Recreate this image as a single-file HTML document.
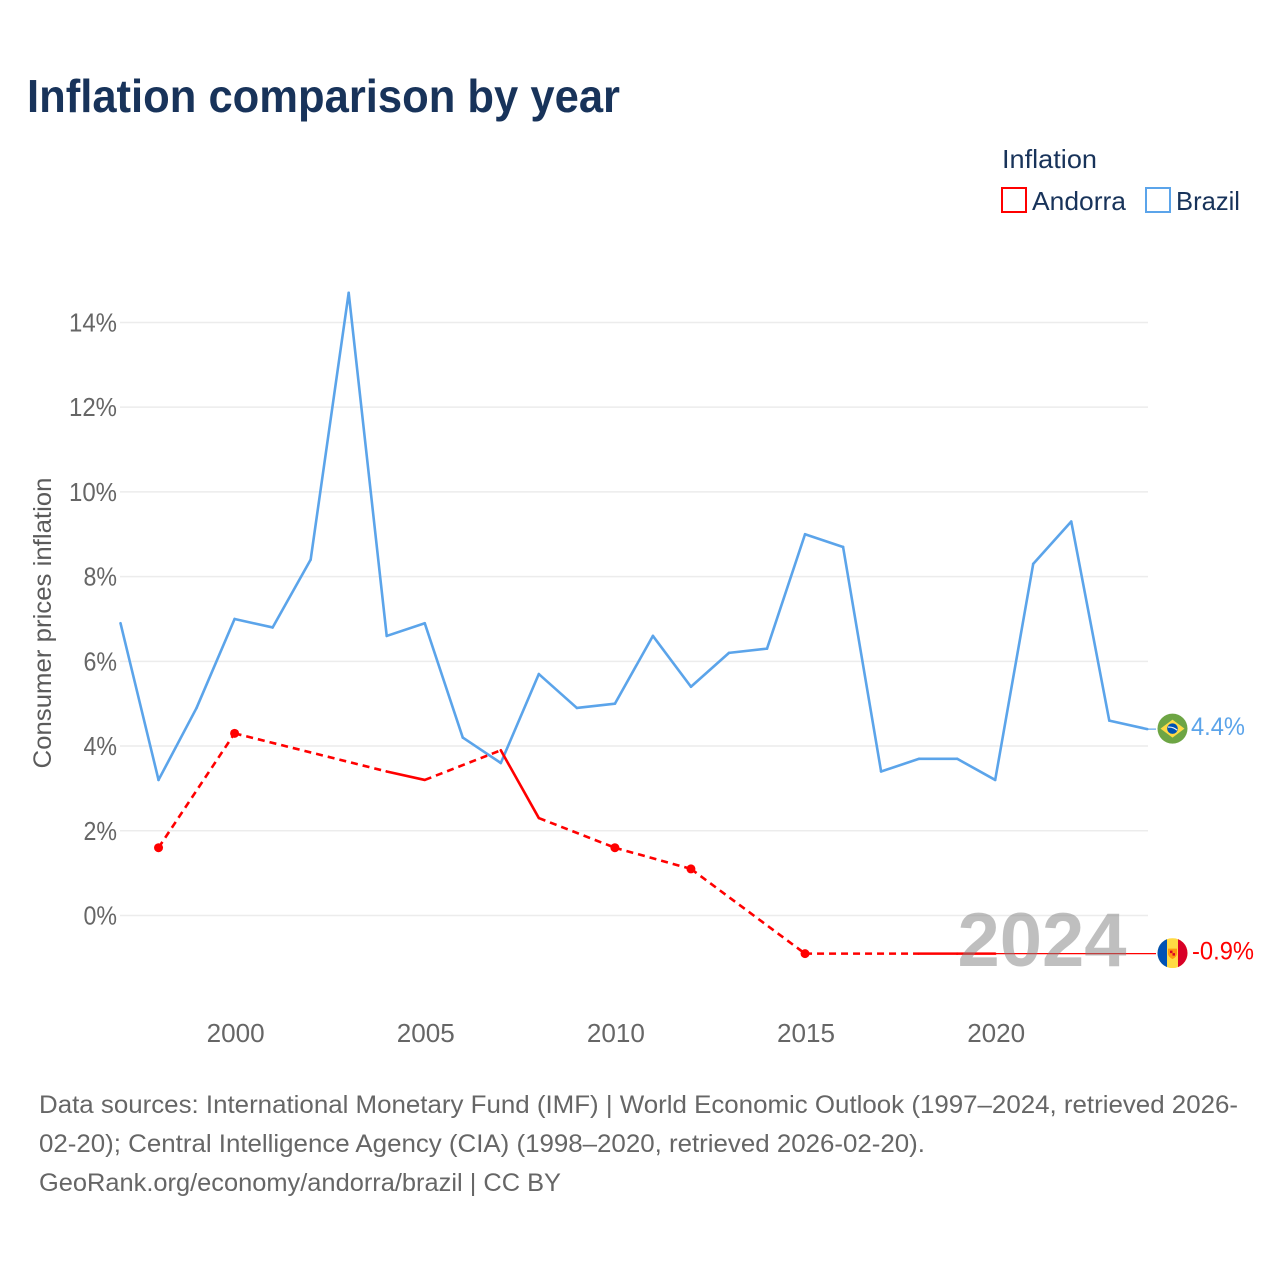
<!DOCTYPE html>
<html lang="en">
<head>
<meta charset="utf-8">
<title>Inflation comparison by year</title>
<style>
  html, body { margin: 0; padding: 0; background: #fff; }
  svg { display: block; font-family: "Liberation Sans", sans-serif; }
</style>
</head>
<body>
<svg id="chart" xmlns="http://www.w3.org/2000/svg" width="1280" height="1280" viewBox="0 0 1280 1280">
  <rect width="1280" height="1280" fill="#fff"/>
  <text x="27" y="112" font-size="46" font-weight="700" fill="#18335a" textLength="593" lengthAdjust="spacingAndGlyphs">Inflation comparison by year</text>

  <text x="1002" y="168" font-size="26" fill="#18335a" textLength="95" lengthAdjust="spacingAndGlyphs">Inflation</text>
  <g>
    <rect x="1002" y="188" width="24" height="24" fill="#fff" stroke="#ff0000" stroke-width="2"/>
    <text x="1032" y="210" font-size="26" fill="#18335a" textLength="94" lengthAdjust="spacingAndGlyphs">Andorra</text>
  </g>
  <g>
    <rect x="1146" y="188" width="24" height="24" fill="#fff" stroke="#5ba4ea" stroke-width="2"/>
    <text x="1176" y="210" font-size="26" fill="#18335a" textLength="64" lengthAdjust="spacingAndGlyphs">Brazil</text>
  </g>

  <text transform="translate(51 623) rotate(-90)" text-anchor="middle" font-size="25" fill="#5b5b5b" textLength="291" lengthAdjust="spacingAndGlyphs">Consumer prices inflation</text>

  <g id="grid"></g>
  <g id="y-ticks"></g>
  <g id="x-ticks"></g>
  <g id="series"></g>

  <text x="1042" y="966" text-anchor="middle" font-size="76" font-weight="700" fill="#808080" fill-opacity="0.5">2024</text>

  <g id="ends"></g>

  <g font-size="25" fill="#666">
    <text x="39" y="1113" textLength="1199" lengthAdjust="spacingAndGlyphs">Data sources: International Monetary Fund (IMF) | World Economic Outlook (1997–2024, retrieved 2026-</text>
    <text x="39" y="1152" textLength="886" lengthAdjust="spacingAndGlyphs">02-20); Central Intelligence Agency (CIA) (1998–2020, retrieved 2026-02-20).</text>
    <text x="39" y="1191" textLength="522" lengthAdjust="spacingAndGlyphs">GeoRank.org/economy/andorra/brazil | CC BY</text>
  </g>
</svg>
<script>
const years = [1997,1998,1999,2000,2001,2002,2003,2004,2005,2006,2007,2008,2009,2010,2011,2012,2013,2014,2015,2016,2017,2018,2019,2020,2021,2022,2023,2024];
const brazilValues = [6.9,3.2,4.9,7.0,6.8,8.4,14.7,6.6,6.9,4.2,3.6,5.7,4.9,5.0,6.6,5.4,6.2,6.3,9.0,8.7,3.4,3.7,3.7,3.2,8.3,9.3,4.6,4.4];
const andorraValues = [null,1.6,null,4.3,null,null,null,3.4,3.2,null,3.9,2.3,null,1.6,null,1.1,null,null,-0.9,null,null,-0.9,-0.9,-0.9,null,null,null,null];
const yTickValues = [0,2,4,6,8,10,12,14];
const xTickValues = [2000,2005,2010,2015,2020];

const NS = 'http://www.w3.org/2000/svg';
const xScale = v => 120.5 + (v - 1997) * 38.03;
const yScale = v => 915.5 - v * 42.36;
const digitWidth = 14.5;
const percentWidth = 19;

function make(parent, tag, attrs, text) {
  const el = document.createElementNS(NS, tag);
  for (const k in attrs) el.setAttribute(k, attrs[k]);
  if (text !== undefined) el.textContent = text;
  parent.appendChild(el);
  return el;
}

const gridGroup = document.getElementById('grid');
const yGroup = document.getElementById('y-ticks');
yTickValues.forEach(v => {
  const line = make(gridGroup, 'line', {x1: 120, x2: 1148, y1: yScale(v), y2: yScale(v), stroke: '#ececec', 'stroke-width': 1.500});
  
  
  const label = v + '%';
  const width = String(v).length * digitWidth + percentWidth;
  const t = make(yGroup, 'text', {x: 117 - width, y: yScale(v) + 9, 'font-size': 26, fill: '#666', textLength: width, lengthAdjust: 'spacingAndGlyphs'}, label);
  
  
});

const xGroup = document.getElementById('x-ticks');
xTickValues.forEach(v => {
  const t = make(xGroup, 'text', {x: xScale(v) + 1, y: 1042, 'font-size': 26, fill: '#666', 'text-anchor': 'middle', textLength: 58, lengthAdjust: 'spacingAndGlyphs'}, String(v));
  
  
});

const seriesGroup = document.getElementById('series');

function drawSeries(values, color, width, name) {
  const defined = [];
  values.forEach((v, i) => { if (v !== null) defined.push(i); });
  for (let n = 0; n < defined.length - 1; n++) {
    const a = defined[n], b = defined[n + 1];
    const adjacent = b - a === 1;
    const attrs = {x1: xScale(years[a]), y1: yScale(values[a]), x2: xScale(years[b]), y2: yScale(values[b]), stroke: color, 'stroke-width': width, 'stroke-linecap': 'round'};
    if (!adjacent) {
      attrs['stroke-dasharray'] = '7 5';
      attrs['stroke-linecap'] = 'butt';
    }
    const seg = make(seriesGroup, 'line', attrs);
    
    
  }
  defined.forEach(i => {
    const isolated = values[i - 1] == null && values[i + 1] == null;
    if (isolated) {
      const dot = make(seriesGroup, 'circle', {cx: xScale(years[i]), cy: yScale(values[i]), r: 4.500, fill: color});
      
      
    }
  });
  const last = defined[defined.length - 1];
  const leader = make(seriesGroup, 'line', {x1: xScale(years[last]), y1: yScale(values[last]), x2: 1156, y2: yScale(values[last]), stroke: color, 'stroke-width': 1.200});
  
  
  return values[last];
}

const brazilLatest = drawSeries(brazilValues, '#5ba4ea', 2.600, 'brazil');
const andorraLatest = drawSeries(andorraValues, '#ff0000', 2.600, 'andorra');

const endsGroup = document.getElementById('ends');

function clipCircle(id, cx, cy) {
  const clip = make(endsGroup, 'clipPath', {id: id});
  make(clip, 'circle', {cx: cx, cy: cy, r: 15});
}

const flagX = 1172.5;
const brazilY = yScale(brazilLatest) - 0.5;
const brazilFlag = make(endsGroup, 'g', {});


make(brazilFlag, 'circle', {cx: flagX, cy: brazilY, r: 15, fill: '#6da544'});
make(brazilFlag, 'polygon', {points: [[flagX - 12, brazilY], [flagX, brazilY - 9], [flagX + 12, brazilY], [flagX, brazilY + 9]].join(' '), fill: '#ffda44'});
make(brazilFlag, 'circle', {cx: flagX, cy: brazilY, r: 5.300, fill: '#0052b4'});
make(brazilFlag, 'path', {d: `M${flagX - 4.500} ${brazilY - 1.500}q5 -0.500 9 3`, stroke: '#f0f0f0', 'stroke-width': 1.200, fill: 'none'});

const brazilLabel = make(endsGroup, 'text', {x: 1191, y: brazilY + 6.500, 'font-size': 25, fill: '#5ba4ea', textLength: 54, lengthAdjust: 'spacingAndGlyphs'}, brazilLatest.toFixed(1) + '%');



const andorraY = yScale(andorraLatest) - 0.5;
clipCircle('andorra-clip', flagX, andorraY);
const andorraFlag = make(endsGroup, 'g', {'clip-path': 'url(#andorra-clip)'});


make(andorraFlag, 'rect', {x: flagX - 15, y: andorraY - 15, width: 30, height: 30, fill: '#ffda44'});
make(andorraFlag, 'rect', {x: flagX - 15, y: andorraY - 15, width: 9.500, height: 30, fill: '#0052b4'});
make(andorraFlag, 'rect', {x: flagX + 5.500, y: andorraY - 15, width: 9.500, height: 30, fill: '#d80027'});
make(andorraFlag, 'path', {d: `M${flagX - 4.500} ${andorraY - 4.500}h9v5q0 3 -4.500 5.500q-4.500 -2.500 -4.500 -5.500z`, fill: '#ff9811'});
make(andorraFlag, 'rect', {x: flagX - 2.500, y: andorraY - 2.500, width: 2.500, height: 2.500, fill: '#d80027'});
make(andorraFlag, 'rect', {x: flagX, y: andorraY, width: 2.500, height: 2.500, fill: '#d80027'});

const andorraLabel = make(endsGroup, 'text', {x: 1192, y: andorraY + 6.500, 'font-size': 25, fill: '#ff0000', textLength: 62, lengthAdjust: 'spacingAndGlyphs'}, andorraLatest.toFixed(1) + '%');


</script>
</body>
</html>
